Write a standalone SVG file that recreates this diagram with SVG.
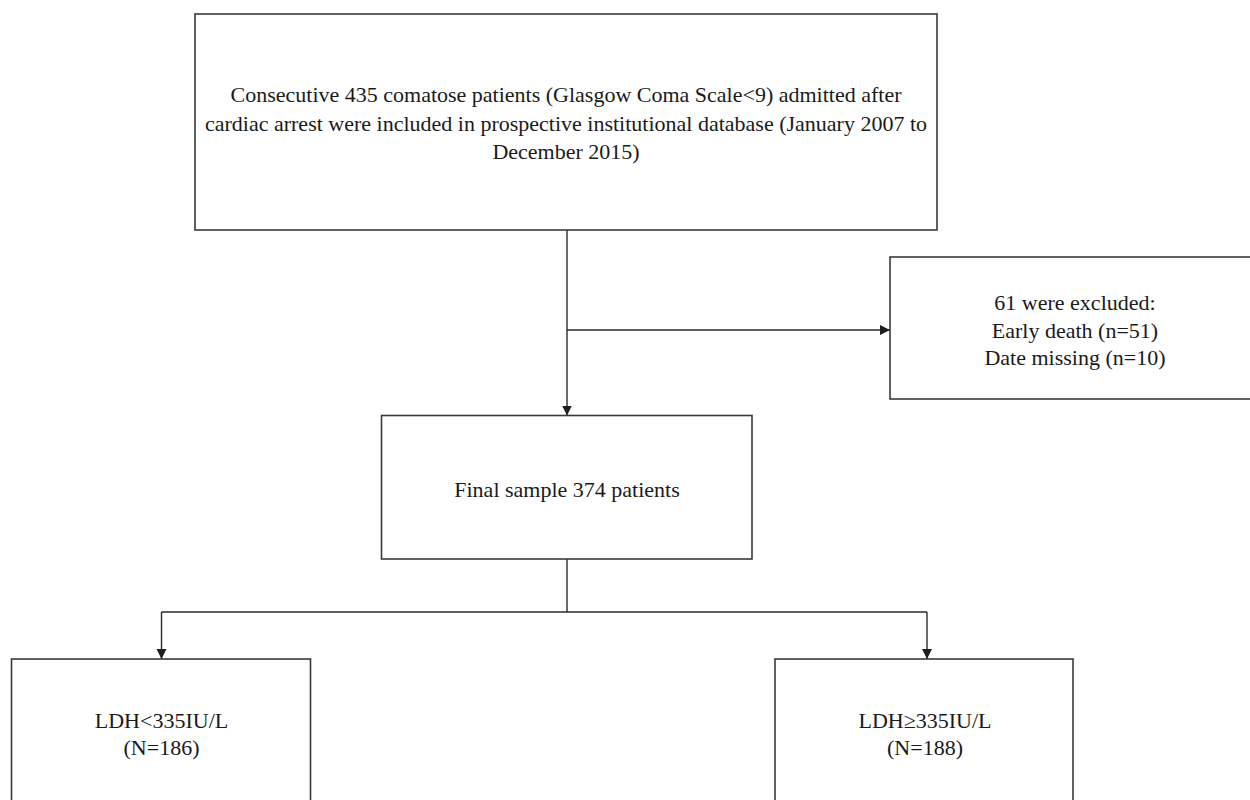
<svg xmlns="http://www.w3.org/2000/svg" width="1250" height="800" viewBox="0 0 1250 800">
  <defs>
    <marker id="arrow" markerUnits="userSpaceOnUse" markerWidth="11" markerHeight="11" refX="10" refY="5" orient="auto">
      <path d="M0,0 L10,5 L0,10 z" fill="#1e1e1e"/>
    </marker>
    <style>
      .box { fill: #ffffff; stroke: #3a3a3a; stroke-width: 1.6; }
      .line { fill: none; stroke: #2a2a2a; stroke-width: 1.4; }
      .arrow { fill: none; stroke: #2a2a2a; stroke-width: 1.4; marker-end: url(#arrow); }
      text { font-family: "Liberation Serif", "Times New Roman", serif; font-size: 22px; fill: #1a1a1a; text-anchor: middle; }
    </style>
  </defs>
  <rect width="1250" height="800" fill="#ffffff"/>

  <g id="connectors">
    <line class="arrow" x1="567" y1="230" x2="567" y2="415.5"/>
    <line class="arrow" x1="567" y1="330" x2="890" y2="330"/>
    <line class="line" x1="567" y1="559" x2="567" y2="612"/>
    <line class="line" x1="161.5" y1="612" x2="927" y2="612"/>
    <line class="arrow" x1="161.5" y1="612" x2="161.5" y2="659"/>
    <line class="arrow" x1="927" y1="612" x2="927" y2="659"/>
  </g>

  <g id="node-cohort">
    <rect class="box" x="195" y="14" width="742" height="216"/>
    <text x="566" y="102">Consecutive 435 comatose patients (Glasgow Coma Scale&lt;9) admitted after</text>
    <text x="566" y="130.5">cardiac arrest were included in prospective institutional database (January 2007 to</text>
    <text x="566" y="159">December 2015)</text>
  </g>

  <g id="node-excluded">
    <rect class="box" x="890" y="257" width="380" height="142"/>
    <text x="1075" y="310">61 were excluded:</text>
    <text x="1075" y="337.5">Early death (n=51)</text>
    <text x="1075" y="365">Date missing (n=10)</text>
  </g>

  <g id="node-final">
    <rect class="box" x="381.5" y="415.5" width="370.5" height="143.5"/>
    <text x="567" y="497">Final sample 374 patients</text>
  </g>

  <g id="node-low">
    <rect class="box" x="11.5" y="659" width="299" height="160"/>
    <text x="161.5" y="727.5">LDH&lt;335IU/L</text>
    <text x="161.5" y="755">(N=186)</text>
  </g>

  <g id="node-high">
    <rect class="box" x="775" y="659" width="298" height="160"/>
    <text x="925" y="727.5">LDH≥335IU/L</text>
    <text x="925" y="755">(N=188)</text>
  </g>
</svg>
